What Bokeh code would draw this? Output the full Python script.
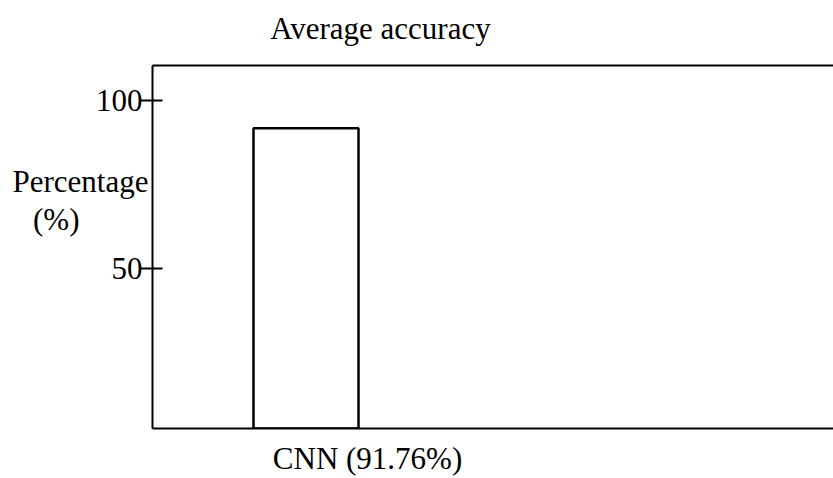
from bokeh.plotting import figure
from bokeh.models import Range1d, LinearAxis, FixedTicker
from bokeh.embed import file_html
from bokeh.resources import INLINE

# Data
categories = ["CNN (91.76%)"]
values = [91.76]
y_ticks = [50, 100]
title_text = "Average accuracy"
ylabel_lines = ["Percentage", "(%)"]

FONT = "Liberation Serif"
FS = "31px"

x_idx = list(range(len(categories)))

p = figure(width=833, height=478, output_backend="svg", toolbar_location=None,
           x_range=Range1d(-1.462, 5.024), y_range=Range1d(2.38, 110.42),
           min_border_left=152, min_border_right=0, min_border_top=65,
           min_border_bottom=50, x_axis_location=None, y_axis_location=None)
p.outline_line_color = None
p.grid.visible = False
p.background_fill_color = "white"
p.border_fill_color = "white"
# ranges used only to place the category label and the title text
p.extra_x_ranges = {"cat": Range1d(-2.048, 4.438), "ttl": Range1d(-2.171, 4.315)}

p.vbar(x=x_idx, top=values, bottom=p.y_range.start, width=1.0,
       fill_color="white", line_color="black", line_width=2.5)


def style_text_axis(ax, standoff):
    ax.major_tick_line_color = None
    ax.minor_tick_line_color = None
    ax.major_tick_in = 0
    ax.major_tick_out = 0
    ax.major_label_text_font = FONT
    ax.major_label_text_font_size = FS
    ax.major_label_text_color = "black"
    ax.major_label_standoff = standoff


# left axis with ticks
yax = LinearAxis(ticker=FixedTicker(ticks=y_ticks))
yax.axis_line_width = 2
yax.axis_line_color = "black"
yax.major_tick_line_width = 2
yax.major_tick_in = 10
yax.major_tick_out = 12
yax.minor_tick_line_color = None
yax.major_label_text_font = FONT
yax.major_label_text_font_size = FS
yax.major_label_text_color = "black"
yax.major_label_standoff = -2
p.add_layout(yax, "left")

# y label lines as extra left axes
ylab_pos = [75.9, 64.6]
ylab_standoff = [-56, -70]
for txt, pos, so in zip(ylabel_lines, ylab_pos, ylab_standoff):
    ax = LinearAxis(ticker=FixedTicker(ticks=[pos]),
                    major_label_overrides={pos: txt})
    ax.axis_line_color = None
    style_text_axis(ax, so)
    p.add_layout(ax, "left")

# bottom axis: line + category label
xax = LinearAxis(x_range_name="cat", ticker=FixedTicker(ticks=x_idx),
                 major_label_overrides={i: c for i, c in zip(x_idx, categories)})
xax.axis_line_width = 2
xax.axis_line_color = "black"
style_text_axis(xax, 12)
p.add_layout(xax, "below")

# top axis: line + title text
tax = LinearAxis(x_range_name="ttl", ticker=FixedTicker(ticks=[0]),
                 major_label_overrides={0: title_text})
tax.axis_line_width = 2
tax.axis_line_color = "black"
style_text_axis(tax, 20)
p.add_layout(tax, "above")

open("out.html", "w").write(file_html(p, INLINE))
